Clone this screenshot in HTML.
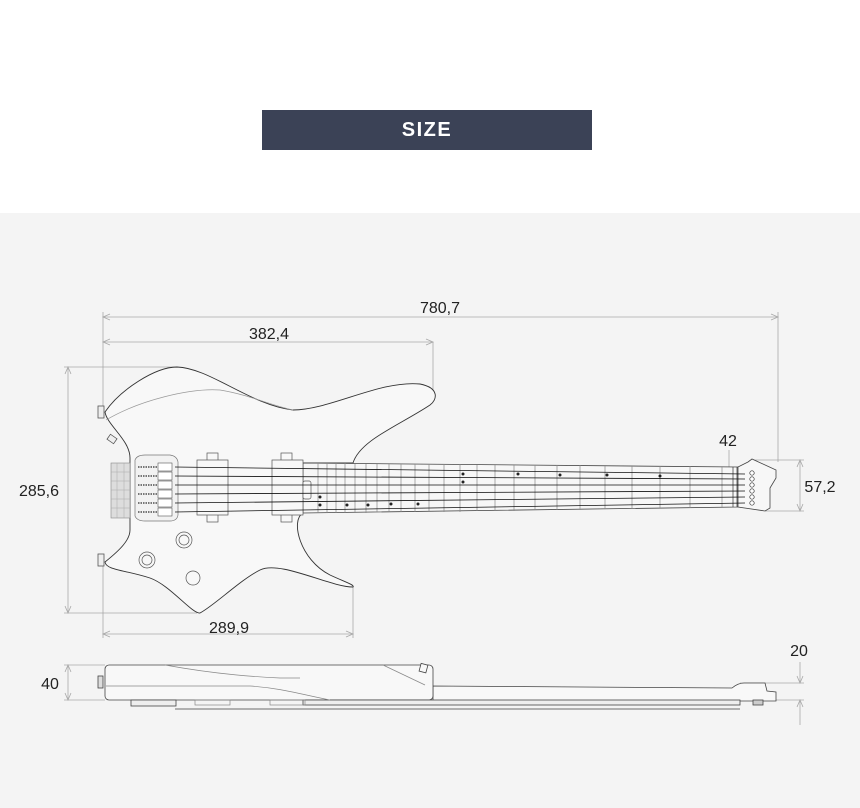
<!DOCTYPE html>
<html><head><meta charset="utf-8"><style>
html,body{margin:0;padding:0;width:860px;height:808px;overflow:hidden;background:#fff;font-family:"Liberation Sans",Arial,sans-serif}
.gray{position:absolute;left:0;top:213px;width:860px;height:595px;background:#f4f4f4}
.title{position:absolute;left:262px;top:110px;width:330px;height:40px;background:#3b4256;color:#fff;font-weight:bold;font-size:20px;letter-spacing:1.5px;text-align:center;line-height:40px}
svg{position:absolute;left:0;top:0}
</style></head><body>
<div class="gray"></div>
<div class="title">SIZE</div>
<svg width="860" height="808" viewBox="0 0 860 808" font-family="Liberation Sans, Arial, sans-serif">
<g stroke="#a8a8a8" stroke-width="0.8" fill="none">
 <line x1="103" y1="317" x2="778" y2="317"/><path d="M110 314 L103 317 L110 320 M771 314 L778 317 L771 320"/>
 <line x1="103" y1="312" x2="103" y2="410"/><line x1="778" y1="312" x2="778" y2="462"/>
 <line x1="103" y1="342" x2="433" y2="342"/><path d="M110 339 L103 342 L110 345 M426 339 L433 342 L426 345"/>
 <line x1="433" y1="342" x2="433" y2="400"/>
 <line x1="68" y1="367" x2="68" y2="613"/><path d="M65 374 L68 367 L71 374 M65 606 L68 613 L71 606"/>
 <line x1="64" y1="367" x2="177" y2="367"/><line x1="64" y1="613" x2="197" y2="613"/>
 <line x1="103" y1="634" x2="353" y2="634"/><path d="M110 631 L103 634 L110 637 M346 631 L353 634 L346 637"/>
 <line x1="103" y1="560" x2="103" y2="638"/><line x1="353" y1="587" x2="353" y2="638"/>
 <line x1="729" y1="450" x2="729" y2="470"/>
 <line x1="800" y1="460" x2="800" y2="511"/><path d="M797 467 L800 460 L803 467 M797 504 L800 511 L803 504"/>
 <line x1="752" y1="460" x2="804" y2="460"/><line x1="765" y1="511" x2="804" y2="511"/>
 <line x1="68" y1="665" x2="68" y2="700"/><path d="M65 672 L68 665 L71 672 M65 693 L68 700 L71 693"/>
 <line x1="64" y1="665" x2="105" y2="665"/><line x1="64" y1="700" x2="105" y2="700"/>
 <line x1="800" y1="662" x2="800" y2="683"/><path d="M797 676 L800 683 L803 676 M797 707 L800 700 L803 707"/>
 <line x1="740" y1="683" x2="804" y2="683"/><line x1="776" y1="700" x2="804" y2="700"/><line x1="800" y1="700" x2="800" y2="725"/>
</g>
<g fill="#222" font-size="16">
 <text x="440" y="313" text-anchor="middle">780,7</text>
 <text x="269" y="339" text-anchor="middle">382,4</text>
 <text x="39" y="496" text-anchor="middle">285,6</text>
 <text x="229" y="633" text-anchor="middle">289,9</text>
 <text x="728" y="446" text-anchor="middle">42</text>
 <text x="820" y="492" text-anchor="middle">57,2</text>
 <text x="50" y="689" text-anchor="middle">40</text>
 <text x="799" y="656" text-anchor="middle">20</text>
</g>
<g stroke="#333" stroke-width="0.9" fill="#f8f8f8">
 <path d="M105 412 C120 390 155 367 177 367 C210 368 250 405 293 410 C330 410 380 380 420 384 C440 388 437 400 430 405 C400 425 360 440 353 463 L303 463 L303 513 C290 520 300 560 330 575 C345 582 355 585 353 587 C330 587 280 560 260 570 C240 580 215 605 200 613 C192 614 170 585 150 578 C125 570 106 570 105 562 C120 550 130 540 130 530 L130 458 C130 440 107 425 105 412 Z"/>
</g>
<path d="M106 420 C140 400 190 388 220 390 C250 395 270 405 293 410" stroke="#999" stroke-width="0.7" fill="none"/>
<g stroke="#555" stroke-width="0.8" fill="#eee">
 <rect x="98" y="406" width="6" height="12"/><rect x="98" y="554" width="6" height="12"/>
 <rect x="108" y="436" width="8" height="6" transform="rotate(35 112 439)"/>
</g>
<path d="M303 463 L738 467 L738 507 L303 513 Z" fill="#f7f7f7" stroke="#444" stroke-width="0.8"/>
<path d="M738 467 L748 462 L752 459 L776 470 L776 478 L770 488 L770 508 L765 511 L738 507 Z" fill="#f7f7f7" stroke="#444" stroke-width="0.8"/>
<g stroke="#888" stroke-width="0.7">
 <line x1="318" y1="463" x2="318" y2="513"/><line x1="327" y1="463" x2="327" y2="513"/><line x1="336" y1="463" x2="336" y2="513"/><line x1="345" y1="463" x2="345" y2="513"/><line x1="355" y1="464" x2="355" y2="513"/><line x1="366" y1="464" x2="366" y2="513"/><line x1="377" y1="464" x2="377" y2="512"/><line x1="389" y1="464" x2="389" y2="512"/><line x1="401" y1="464" x2="401" y2="512"/><line x1="415" y1="464" x2="415" y2="512"/><line x1="429" y1="464" x2="429" y2="512"/><line x1="444" y1="464" x2="444" y2="512"/><line x1="460" y1="464" x2="460" y2="512"/><line x1="477" y1="465" x2="477" y2="511"/><line x1="495" y1="465" x2="495" y2="511"/><line x1="514" y1="465" x2="514" y2="511"/><line x1="535" y1="465" x2="535" y2="510"/><line x1="557" y1="465" x2="557" y2="510"/><line x1="580" y1="465" x2="580" y2="510"/><line x1="605" y1="466" x2="605" y2="509"/><line x1="632" y1="466" x2="632" y2="509"/><line x1="660" y1="466" x2="660" y2="508"/><line x1="690" y1="466" x2="690" y2="508"/><line x1="722" y1="467" x2="722" y2="507"/>
 <line x1="733" y1="467" x2="733" y2="507" stroke="#333"/><line x1="737" y1="467" x2="737" y2="507" stroke="#333"/>
</g>
<g fill="#222">
 <circle cx="463" cy="474" r="1.5"/><circle cx="463" cy="482" r="1.5"/><circle cx="518" cy="474" r="1.5"/><circle cx="560" cy="475" r="1.5"/><circle cx="607" cy="475" r="1.5"/><circle cx="660" cy="476" r="1.5"/>
 <circle cx="320" cy="497" r="1.5"/><circle cx="320" cy="505" r="1.5"/><circle cx="347" cy="505" r="1.5"/><circle cx="368" cy="505" r="1.5"/><circle cx="391" cy="504" r="1.5"/><circle cx="418" cy="504" r="1.5"/>
</g>
<rect x="111" y="463" width="19" height="55" fill="#ddd" stroke="#888" stroke-width="0.6"/>
<g stroke="#aaa" stroke-width="0.5"><line x1="111" y1="472" x2="130" y2="472"/><line x1="111" y1="481" x2="130" y2="481"/><line x1="111" y1="490" x2="130" y2="490"/><line x1="111" y1="499" x2="130" y2="499"/><line x1="111" y1="508" x2="130" y2="508"/><line x1="117" y1="463" x2="117" y2="518"/><line x1="124" y1="463" x2="124" y2="518"/></g>
<path d="M135 460 Q137 455 145 455 L170 455 Q177 456 178 462 L178 515 Q177 521 170 521 L145 521 Q137 521 135 516 Z" fill="#f2f2f2" stroke="#777" stroke-width="0.7"/>
<g stroke="#555" stroke-width="0.6" fill="#fff">
 <rect x="158" y="463" width="14" height="8"/><rect x="158" y="472" width="14" height="8"/><rect x="158" y="481" width="14" height="8"/><rect x="158" y="490" width="14" height="8"/><rect x="158" y="499" width="14" height="8"/><rect x="158" y="508" width="14" height="8"/>
</g>
<g stroke="#777" stroke-width="2" stroke-dasharray="1.5 1"><line x1="138" y1="467" x2="157" y2="467"/><line x1="138" y1="476" x2="157" y2="476"/><line x1="138" y1="485" x2="157" y2="485"/><line x1="138" y1="494" x2="157" y2="494"/><line x1="138" y1="503" x2="157" y2="503"/><line x1="138" y1="512" x2="157" y2="512"/></g>
<g stroke="#555" stroke-width="0.7" fill="#f8f8f8">
 <rect x="207" y="453" width="11" height="8"/><rect x="207" y="514" width="11" height="8"/><rect x="197" y="460" width="31" height="55"/>
 <rect x="281" y="453" width="11" height="8"/><rect x="281" y="514" width="11" height="8"/><rect x="272" y="460" width="31" height="55"/>
 <rect x="303" y="481" width="8" height="18" rx="2"/>
 <circle cx="184" cy="540" r="8"/><circle cx="184" cy="540" r="5"/>
 <circle cx="147" cy="560" r="8"/><circle cx="147" cy="560" r="5"/>
 <circle cx="193" cy="578" r="7"/>
</g>
<g stroke="#111" stroke-width="0.8">
 <line x1="175" y1="467" x2="745" y2="474"/><line x1="175" y1="476" x2="745" y2="479"/><line x1="175" y1="485" x2="745" y2="485"/><line x1="175" y1="494" x2="745" y2="491"/><line x1="175" y1="503" x2="745" y2="497"/><line x1="175" y1="512" x2="745" y2="503"/>
</g>
<g stroke="#333" stroke-width="0.7" fill="#fff">
 <circle cx="752" cy="473" r="2.2"/><circle cx="752" cy="479" r="2.2"/><circle cx="752" cy="485" r="2.2"/><circle cx="752" cy="491" r="2.2"/><circle cx="752" cy="497" r="2.2"/><circle cx="752" cy="503" r="2.2"/>
</g>
<!-- side view -->
<g stroke="#444" stroke-width="0.8" fill="#f8f8f8">
 <path d="M433 686 L732 688 Q738 683 744 683 L765 683 L767 691 L776 692 L776 701 L433 701 Z"/>
 <rect x="105" y="665" width="328" height="35" rx="4"/>
 <rect x="303" y="700" width="437" height="5" fill="#eee"/>
 <rect x="98" y="676" width="5" height="12" fill="#ddd"/>
 <rect x="131" y="700" width="45" height="6" fill="#eee"/>
 <rect x="753" y="700" width="10" height="5" fill="#ccc"/>
 <rect x="420" y="664" width="7" height="8" transform="rotate(15 423 668)"/>
</g>
<g stroke="#888" stroke-width="0.7" fill="none">
 <path d="M165 665 C220 675 260 677 280 678 L300 678"/>
 <path d="M106 686 L250 686 C280 688 300 694 330 700"/>
 <path d="M383 665 L425 685"/>
 <line x1="175" y1="709" x2="740" y2="709" stroke="#999" stroke-width="1.5"/>
 <rect x="195" y="700" width="35" height="5"/><rect x="270" y="700" width="35" height="5"/>
</g>
</svg>
</body></html>
